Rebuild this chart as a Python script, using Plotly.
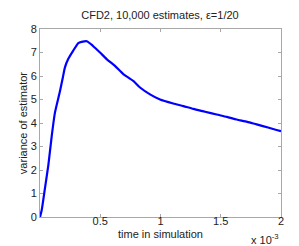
import plotly.graph_objects as go

time_s = [0, 0.014e-3, 0.041e-3, 0.069e-3, 0.097e-3, 0.124e-3, 0.166e-3, 0.19e-3, 0.207e-3, 0.235e-3,
          0.276e-3, 0.318e-3, 0.345e-3, 0.388e-3, 0.425e-3, 0.456e-3, 0.498e-3, 0.553e-3,
          0.622e-3, 0.691e-3, 0.774e-3, 0.83e-3, 0.913e-3, 0.996e-3, 1.106e-3, 1.19e-3,
          1.272e-3, 1.37e-3, 1.466e-3, 1.55e-3, 1.632e-3, 1.72e-3, 1.798e-3, 1.9e-3, 2.0e-3]
variance = [0, 0.29, 1.22, 2.2, 3.43, 4.44, 5.36, 5.95, 6.37, 6.73,
            7.08, 7.4, 7.45, 7.48, 7.35, 7.2, 7.0, 6.72,
            6.43, 6.08, 5.79, 5.51, 5.22, 5.0, 4.83, 4.72,
            4.6, 4.48, 4.36, 4.26, 4.15, 4.05, 3.94, 3.8, 3.65]

x_tickvals = [0.5e-3, 1.0e-3, 1.5e-3, 2.0e-3]
x_ticktext = ["0.5", "1", "1.5", "2"]
y_tickvals = [0, 1, 2, 3, 4, 5, 6, 7, 8]

fig = go.Figure()
fig.add_trace(go.Scatter(x=time_s, y=variance, mode="lines", line_shape="spline",
                         line=dict(color="#0000ff", width=2.2, smoothing=0.6), showlegend=False))

font = dict(family="Liberation Sans, Arial, sans-serif", size=11, color="#222222")
axis_common = dict(showgrid=False, zeroline=False, showline=True, linecolor="#a8a8a8",
                   linewidth=1, mirror="ticks", ticks="inside", ticklen=3,
                   tickcolor="#a8a8a8", tickfont=font)

fig.update_layout(
    width=299, height=246,
    margin=dict(l=40, r=18, t=29, b=29),
    paper_bgcolor="white", plot_bgcolor="white",
    font=font,
    title=dict(text="CFD2, 10,000 estimates, ε=1/20", x=0.535, xanchor="center",
               y=0.94, yanchor="middle", font=dict(size=11, family=font["family"], color="#222222")),
    xaxis=dict(range=[0, 2e-3], tickvals=x_tickvals, ticktext=x_ticktext,
               ticklabelstandoff=-6, **axis_common),
    yaxis=dict(range=[0, 8], tickvals=y_tickvals, **axis_common),
)
fig.add_annotation(text="variance of estimator", xref="paper", yref="paper", x=-0.07, y=0.5,
                   xanchor="center", yanchor="middle", textangle=-90, showarrow=False, font=font)
fig.add_annotation(text="time in simulation", xref="paper", yref="paper", x=0.5, y=-0.093,
                   xanchor="center", yanchor="middle", showarrow=False, font=font)
fig.add_annotation(text="x 10<sup>-3</sup>", xref="paper", yref="paper", x=1.0, y=-0.115,
                   xanchor="right", yanchor="middle", showarrow=False, font=font)

fig.write_html("out.html", config={"displayModeBar": False},
               post_script="document.body.style.margin='0';")
